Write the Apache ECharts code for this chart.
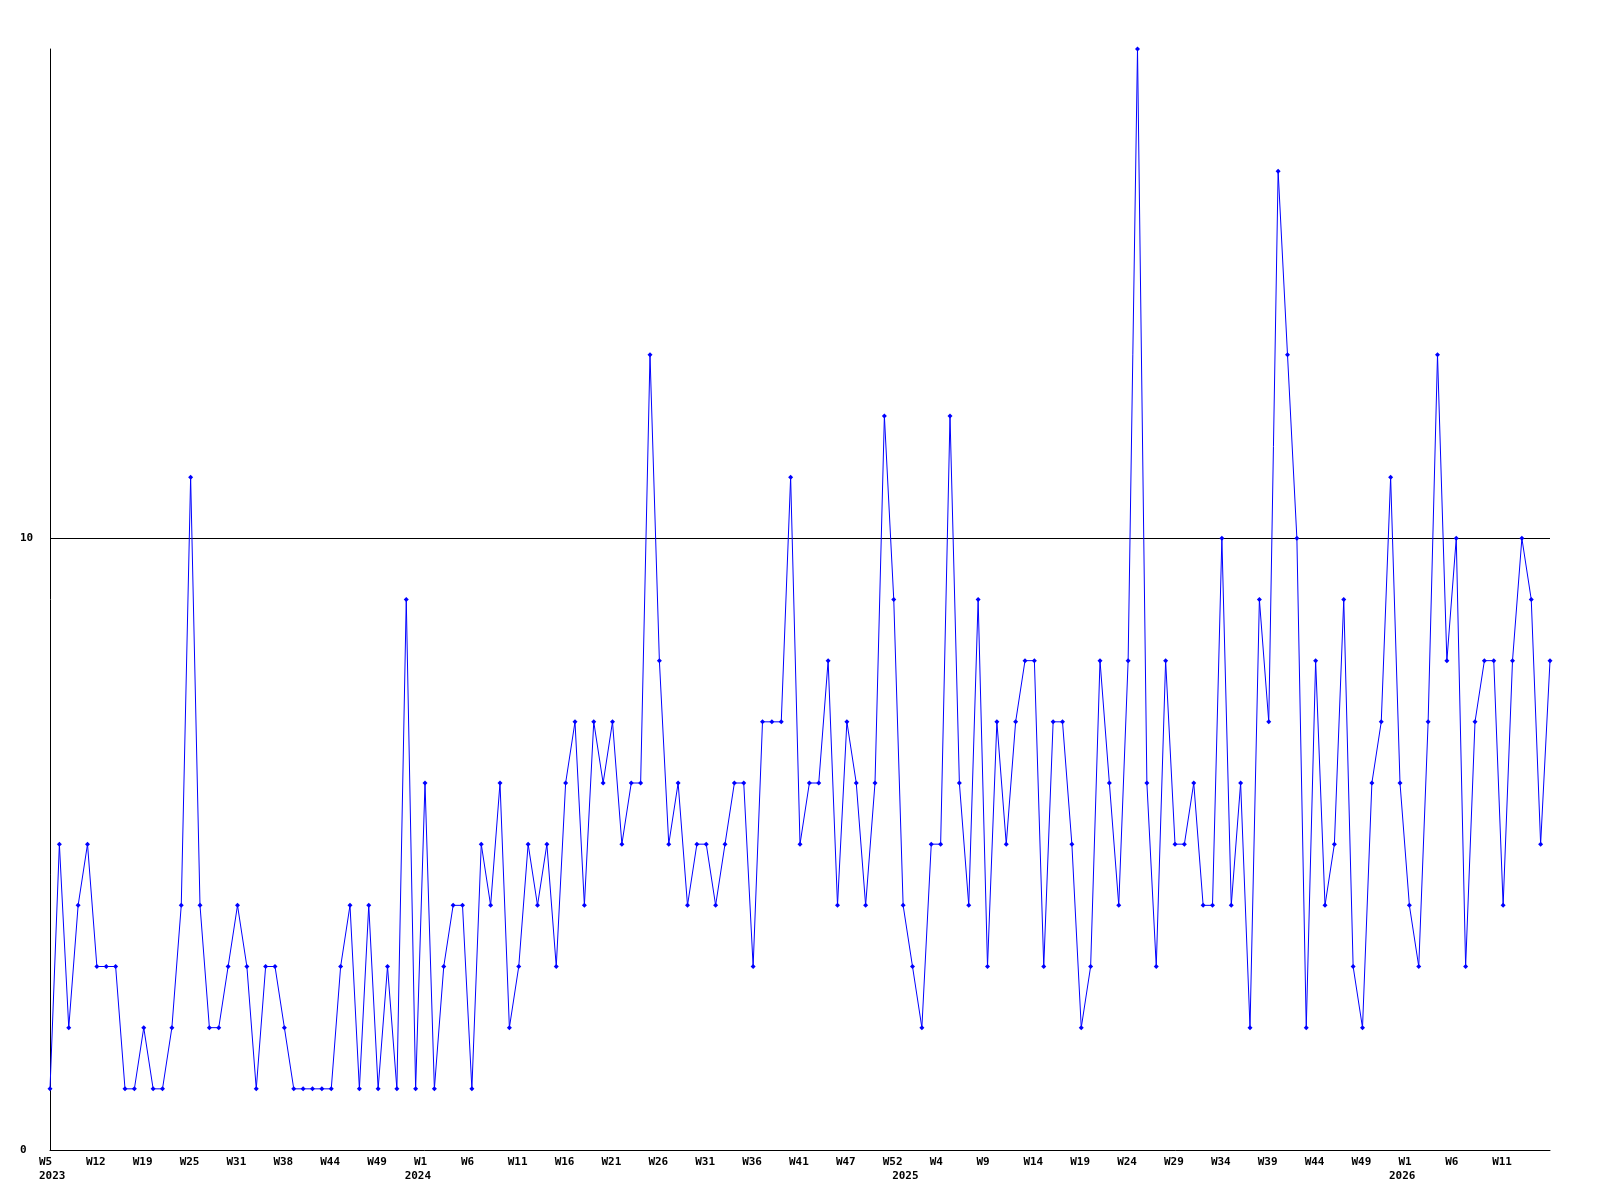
<!DOCTYPE html>
<html>
<head>
<meta charset="utf-8">
<script src="https://cdn.jsdelivr.net/npm/echarts@6/dist/echarts.min.js"></script>
<style>
html,body{margin:0;padding:0;background:#ffffff;}
#chart{width:1600px;height:1200px;}
</style>
</head>
<body>
<div id="chart"></div>
<script>
// Weekly counts, one value per point (161 points)
const values = [
  1,5,2,4,5,3,3,3,1,1,2,1,1,2,4,11,4,2,2,3,4,
  3,1,3,3,2,1,1,1,1,1,3,4,1,4,1,3,1,9,1,6,
  1,3,4,4,1,5,4,6,2,3,5,4,5,3,6,7,4,7,6,7,
  5,6,6,13,8,5,6,4,5,5,4,5,6,6,3,7,7,7,11,5,
  6,6,8,4,7,6,4,6,12,9,4,3,2,5,5,12,6,4,9,3,
  7,5,7,8,8,3,7,7,5,2,3,8,6,4,8,18,6,3,8,5,5,
  6,4,4,10,4,6,2,9,7,16,13,10,2,8,4,5,9,3,2,6,
  7,11,6,4,3,7,13,8,10,3,7,8,8,4,8,10,9,5,8
];
// Week tick labels, shown every 5th point
const weekLabels = [
  'W5','W12','W19','W25','W31','W38','W44','W49',
  'W1','W6','W11','W16','W21','W26','W31','W36','W41','W47','W52',
  'W4','W9','W14','W19','W24','W29','W34','W39','W44','W49',
  'W1','W6','W11'
];
// Year labels and the point index where each year begins
const yearLabels = ['2023','2024','2025','2026'];
const yearStarts = [0, 39, 91, 144];
const categories = values.map(function (_, i) { return String(i); });

const FONT = 'DejaVu Sans Mono';
const labelBase = {
  fontFamily: FONT,
  fontWeight: 'bold',
  fontSize: 11,
  color: '#000000',
  lineHeight: 13
};

const chart = echarts.init(document.getElementById('chart'), null, { renderer: 'canvas' });
chart.setOption({
  backgroundColor: '#ffffff',
  animation: false,
  grid: { left: 50, right: 50, top: 49, bottom: 50, containLabel: false },
  xAxis: [
    {
      type: 'category',
      data: categories,
      boundaryGap: false,
      position: 'bottom',
      axisLine: { show: true, lineStyle: { color: '#000000', width: 1 } },
      axisTick: { show: false },
      splitLine: { show: false },
      axisLabel: Object.assign({}, labelBase, {
        margin: 6,
        align: 'center',
        width: 22,
        overflow: 'none',
        interval: function (idx) { return idx % 5 === 0 && (idx / 5) < weekLabels.length; },
        formatter: function (v, idx) {
          const k = idx / 5;
          return (idx % 5 === 0 && k < weekLabels.length) ? '{a|' + weekLabels[k] + '}' : '';
        },
        rich: { a: Object.assign({}, labelBase, { align: 'left' }) }
      })
    },
    {
      type: 'category',
      data: categories,
      boundaryGap: false,
      position: 'bottom',
      axisLine: { show: false },
      axisTick: { show: false },
      splitLine: { show: false },
      axisLabel: Object.assign({}, labelBase, {
        margin: 20,
        align: 'center',
        width: 22,
        overflow: 'none',
        interval: function (idx) { return yearStarts.indexOf(idx) >= 0; },
        formatter: function (v, idx) {
          const k = yearStarts.indexOf(idx);
          return k >= 0 ? '{a|' + yearLabels[k] + '}' : '';
        },
        rich: { a: Object.assign({}, labelBase, { align: 'left' }) }
      })
    }
  ],
  yAxis: {
    type: 'value',
    min: 0,
    max: 18,
    interval: 10,
    axisLine: { show: true, lineStyle: { color: '#000000', width: 1 } },
    axisTick: { show: false },
    splitLine: {
      show: true,
      showMinLine: false,
      showMaxLine: false,
      lineStyle: { color: '#000000', width: 1 }
    },
    axisLabel: Object.assign({}, labelBase, {
      margin: 30,
      align: 'left',
      verticalAlign: 'middle',
      showMaxLabel: false
    })
  },
  series: [
    {
      type: 'line',
      xAxisIndex: 0,
      yAxisIndex: 0,
      data: values,
      symbol: 'diamond',
      symbolSize: 5,
      showAllSymbol: true,
      itemStyle: { color: '#0000ff' },
      lineStyle: { color: '#0000ff', width: 1 },
      emphasis: { disabled: true }
    }
  ]
});
</script>
</body>
</html>
